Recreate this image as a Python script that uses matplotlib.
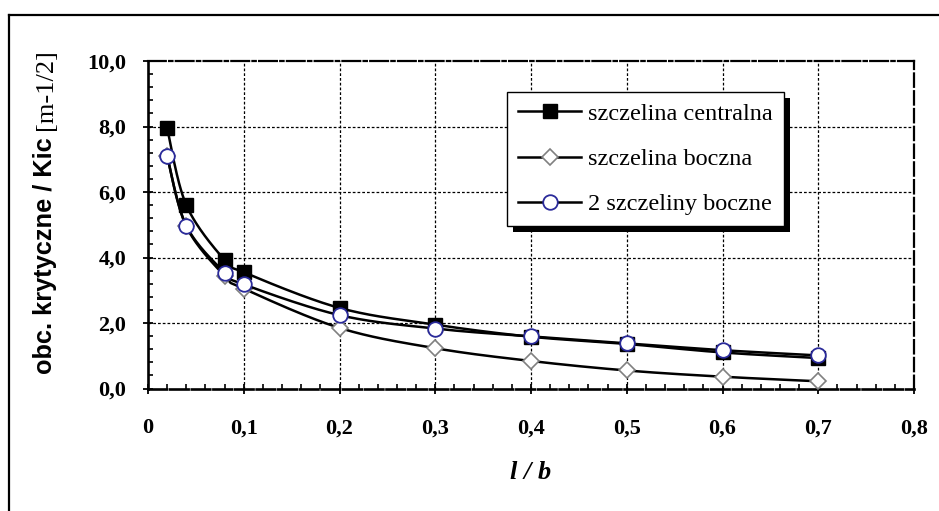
import numpy as np
import matplotlib
matplotlib.use("Agg")
import matplotlib.pyplot as plt
from matplotlib.lines import Line2D
from matplotlib.patches import Rectangle

# ---- data ----
x_vals = [0.02, 0.04, 0.08, 0.1, 0.2, 0.3, 0.4, 0.5, 0.6, 0.7]
centralna = [7.95, 5.60, 3.92, 3.55, 2.46, 1.95, 1.58, 1.36, 1.10, 0.93]
boczna = [7.10, 4.95, 3.44, 3.05, 1.85, 1.23, 0.84, 0.55, 0.36, 0.22]
dwie_boczne = [7.10, 4.97, 3.54, 3.18, 2.24, 1.83, 1.59, 1.38, 1.17, 1.01]
series_names = ["szczelina centralna", "szczelina boczna", "2 szczeliny boczne"]
x_ticks = [0, 0.1, 0.2, 0.3, 0.4, 0.5, 0.6, 0.7, 0.8]
x_tick_labels = ["0", "0,1", "0,2", "0,3", "0,4", "0,5", "0,6", "0,7", "0,8"]
y_ticks = [0, 2, 4, 6, 8, 10]
y_tick_labels = ["0,0", "2,0", "4,0", "6,0", "8,0", "10,0"]

W, H = 939, 511
fig = plt.figure(figsize=(W / 100, H / 100), dpi=100)
fig.patch.set_facecolor("white")

# outer frame (left and top visible)
fig.add_artist(Line2D([9 / W, 9 / W], [0, 1 - 15 / H], color="black", lw=1.6,
                      transform=fig.transFigure, solid_capstyle="projecting"))
fig.add_artist(Line2D([9 / W, 1], [1 - 15 / H, 1 - 15 / H], color="black", lw=1.6,
                      transform=fig.transFigure, solid_capstyle="projecting"))

ax_l, ax_r, ax_t, ax_b = 148, 914, 61, 388.5
ax = fig.add_axes([ax_l / W, 1 - ax_b / H, (ax_r - ax_l) / W, (ax_b - ax_t) / H])
ax.set_xlim(0, 0.8)
ax.set_ylim(0, 10)

# smooth (Excel-like) curve helper in screen-proportional space
sx = (ax_r - ax_l) / 0.8
sy = (ax_b - ax_t) / 10.0


def smooth(xs, ys, n=30):
    P = np.column_stack([np.asarray(xs) * sx, np.asarray(ys) * sy])
    out = []
    m = len(P)
    for i in range(m - 1):
        p0 = P[i - 1] if i > 0 else P[i]
        p1 = P[i]
        p2 = P[i + 1]
        p3 = P[i + 2] if i + 2 < m else P[i + 1]
        c1 = p1 + (p2 - p0) / 6.0
        c2 = p2 - (p3 - p1) / 6.0
        t = np.linspace(0, 1, n)[:, None]
        seg = ((1 - t) ** 3) * p1 + 3 * ((1 - t) ** 2) * t * c1 + 3 * (1 - t) * t ** 2 * c2 + t ** 3 * p2
        out.append(seg if i == 0 else seg[1:])
    C = np.vstack(out)
    return C[:, 0] / sx, C[:, 1] / sy


styles = [
    dict(marker="s", ms=10, mfc="black", mec="black", mew=1.0),
    dict(marker="D", ms=8.5, mfc="white", mec="#808080", mew=1.2),
    dict(marker="o", ms=10.5, mfc="white", mec="#2a2a9a", mew=1.3),
]
data = [centralna, boczna, dwie_boczne]
handles = []
for i, (ys, st) in enumerate(zip(data, styles)):
    cx, cy = smooth(x_vals, ys)
    ax.plot(cx, cy, color="black", lw=1.8, zorder=3 + i * 0.1)
    ax.plot(x_vals, ys, linestyle="none", zorder=3.05 + i * 0.1, **st)
    handles.append(Line2D([], [], color="black", lw=1.8, **st))

# grid
for xv in x_ticks[1:-1]:
    ax.axvline(xv, color="black", lw=0.9, ls=(0, (2.2, 1.6)), zorder=1)
for yv in y_ticks[1:-1]:
    ax.axhline(yv, color="black", lw=0.9, ls=(0, (2.2, 1.6)), zorder=1)

# spines
ax.spines["left"].set_linewidth(1.9)
ax.spines["bottom"].set_linewidth(1.9)
ax.spines["bottom"].set_linestyle((0, (7, 1.2)))
ax.spines["top"].set_linewidth(1.6)
ax.spines["top"].set_linestyle((0, (8, 1.5, 1.5, 1.5)))
ax.spines["right"].set_linewidth(1.6)
ax.spines["right"].set_linestyle((0, (6, 2)))

ax.set_xticks(x_ticks)
ax.set_xticklabels(x_tick_labels)
ax.set_yticks(y_ticks)
ax.set_yticklabels(y_tick_labels)
ax.set_xticks(np.arange(0.02, 0.8, 0.02), minor=True)
ax.set_yticks(np.arange(0.4, 10, 0.4), minor=True)
ax.tick_params(which="major", direction="inout", length=7, width=1.3, color="black")
ax.tick_params(which="minor", direction="in", length=3.5, width=1.2, color="black")
ax.tick_params(axis="x", which="major", pad=18)
ax.tick_params(axis="y", which="major", pad=12)
ax.tick_params(top=False, right=False, which="both")
for lab in ax.get_xticklabels() + ax.get_yticklabels():
    lab.set_fontfamily("Liberation Serif")
    lab.set_fontweight("bold")
    lab.set_fontsize(16)

# x label
ax.set_xlabel("l / b", fontfamily="Liberation Serif", fontweight="bold",
              fontstyle="italic", fontsize=19, labelpad=16)

# legend
leg = ax.legend(handles, series_names, loc="upper left",
                bbox_to_anchor=(507 / W, 1 - 92 / H), bbox_transform=fig.transFigure,
                prop={"family": "Liberation Serif", "size": 17.5},
                frameon=True, fancybox=False, edgecolor="black", framealpha=1,
                handlelength=2.6, handletextpad=0.3, labelspacing=0.95,
                borderpad=0.45, borderaxespad=0)
leg.get_frame().set_linewidth(1.0)
leg.set_zorder(10)

# y label: sans bold part + serif part
yl_base = 52 / W
t1 = fig.text(yl_base, 1 - 374 / H, "obc. krytyczne / Kic", rotation=90,
              rotation_mode="anchor", ha="left", va="baseline",
              fontfamily="Liberation Sans", fontweight="bold", fontsize=18.3)
fig.canvas.draw()
r = fig.canvas.get_renderer()
bb = t1.get_window_extent(r)
fig.text(yl_base, (bb.y1 + 7) / H, "[m-1/2]", rotation=90,
         rotation_mode="anchor", ha="left", va="baseline",
         fontfamily="Liberation Serif", fontsize=19)

# legend shadow
lb = leg.get_window_extent(r)
off = 6
shadow = Rectangle(((lb.x0 + off) / W, (lb.y0 - off) / H), lb.width / W, lb.height / H,
                   transform=fig.transFigure, facecolor="black", edgecolor="none", zorder=9)
ax.add_artist(shadow)
shadow.set_clip_on(False)

fig.savefig("out.png", dpi=100)
